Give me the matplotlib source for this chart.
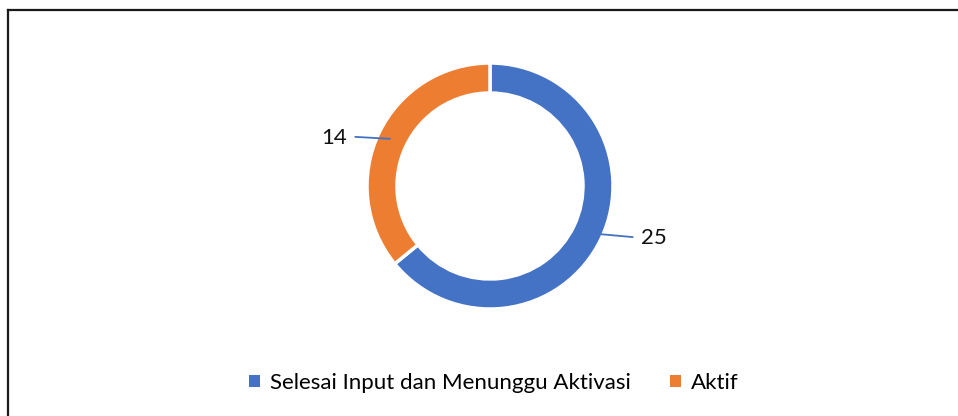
import numpy as np
import matplotlib
matplotlib.use("Agg")
import matplotlib.pyplot as plt
from matplotlib.lines import Line2D
from matplotlib.patches import Patch

categories = ["Selesai Input dan Menunggu Aktivasi", "Aktif"]
values = [25, 14]
colors = ["#4472C4", "#ED7D31"]

W, H = 958, 416
fig = plt.figure(figsize=(W / 100, H / 100), dpi=100)
ax = fig.add_axes([0, 0, 1, 1])

cx, cy, R = 490, H - 186, 123
width = 30
wedges, _ = ax.pie(values, colors=colors, startangle=90, counterclock=False,
                   radius=R, center=(cx, cy),
                   wedgeprops=dict(width=width, edgecolor="white", linewidth=2.5))
ax.set_xlim(0, W)
ax.set_ylim(0, H)
ax.set_aspect("auto")
ax.axis("off")

font = "Lato"
# leader line end offsets (pixels)
leader = [(44, -4), (-36, 2)]
for w, v, (dx, dy) in zip(wedges, values, leader):
    ang = np.deg2rad((w.theta1 + w.theta2) / 2)
    rm = R - 13
    px, py = cx + rm * np.cos(ang), cy + rm * np.sin(ang)
    ex, ey = px + dx, py + dy
    ax.plot([px, ex], [py, ey], color="#4472C4", lw=1.3, solid_capstyle="butt")
    right = dx > 0
    ax.text(ex + (8 if right else -8), ey - 1, str(v),
            ha="left" if right else "right", va="center",
            fontsize=16, family=font, color="#111111")

handles = [Patch(facecolor=c, edgecolor="none") for c in colors]
leg = fig.legend(handles, categories, loc="center", bbox_to_anchor=(494 / W, 1 - 383 / H),
                 ncol=2, frameon=False, prop=dict(family=font, size=16),
                 handlelength=0.5, handleheight=0.5, handletextpad=0.45, columnspacing=1.75)

fig.add_artist(Line2D([8 / W, 1], [1 - 10 / H, 1 - 10 / H], transform=fig.transFigure,
                      color="#1a1a1a", lw=1.6))
fig.add_artist(Line2D([8 / W, 8 / W], [0, 1 - 10 / H], transform=fig.transFigure,
                      color="#1a1a1a", lw=1.6))

fig.savefig("out.png", dpi=100, facecolor="white")
